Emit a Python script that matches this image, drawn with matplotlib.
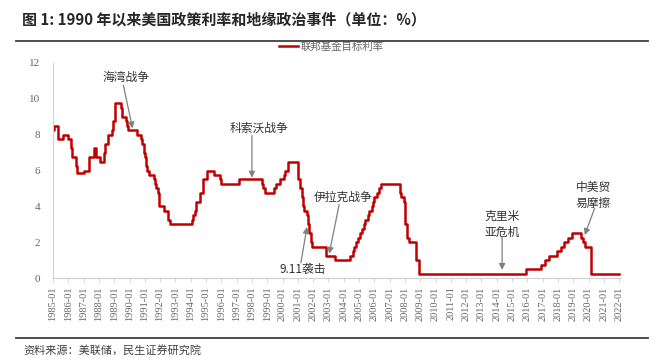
import matplotlib
matplotlib.use("Agg")
import matplotlib.pyplot as plt
from matplotlib.lines import Line2D

plt.rcParams['font.family'] = ['Noto Sans CJK SC', 'DejaVu Sans']

# Fed funds target rate change points (year, month, value %)
change_years = [1985, 1985, 1985, 1985, 1986, 1986, 1986, 1986, 1986,
                1987, 1987, 1987, 1987, 1988, 1988, 1988, 1988, 1988, 1988,
                1989, 1989, 1989, 1989, 1989, 1989, 1990, 1990, 1990, 1990,
                1991, 1991, 1991, 1991, 1991, 1991, 1991, 1991, 1991,
                1992, 1992, 1992, 1994, 1994, 1994, 1994, 1994, 1994,
                1995, 1995, 1995, 1996, 1997, 1998, 1998, 1998,
                1999, 1999, 1999, 2000, 2000, 2000,
                2001, 2001, 2001, 2001, 2001, 2001, 2001, 2001, 2001, 2001,
                2002, 2003, 2004, 2004, 2004, 2004, 2004,
                2005, 2005, 2005, 2005, 2005, 2005, 2005, 2005,
                2006, 2006, 2006, 2006, 2007, 2007, 2007,
                2008, 2008, 2008, 2008, 2008,
                2015, 2016, 2017, 2017, 2017, 2018, 2018, 2018, 2018,
                2019, 2019, 2019, 2020, 2022]
change_months = [1, 2, 5, 9, 1, 3, 4, 7, 8,
                 1, 5, 9, 11, 2, 5, 6, 8, 11, 12,
                 2, 6, 7, 10, 11, 12, 7, 10, 11, 12,
                 1, 2, 3, 4, 8, 9, 10, 11, 12,
                 4, 7, 9, 2, 3, 4, 5, 8, 11,
                 2, 7, 12, 1, 3, 9, 10, 11,
                 6, 8, 11, 2, 3, 5,
                 1, 3, 4, 5, 6, 8, 9, 10, 11, 12,
                 11, 6, 6, 8, 9, 11, 12,
                 2, 3, 5, 6, 8, 9, 11, 12,
                 1, 3, 5, 6, 9, 10, 12,
                 1, 3, 4, 10, 12,
                 12, 12, 3, 6, 12, 3, 6, 9, 12,
                 7, 9, 10, 3, 1]
rate_values = [8.25, 8.5, 7.75, 8.0, 7.75, 7.25, 6.75, 6.25, 5.875,
               6.0, 6.75, 7.25, 6.75, 6.5, 7.0, 7.5, 8.0, 8.25, 8.75,
               9.75, 9.5, 9.0, 8.75, 8.5, 8.25, 8.0, 7.75, 7.5, 7.0,
               6.75, 6.25, 6.0, 5.75, 5.5, 5.25, 5.0, 4.75, 4.0,
               3.75, 3.25, 3.0, 3.25, 3.5, 3.75, 4.25, 4.75, 5.5,
               6.0, 5.75, 5.5, 5.25, 5.5, 5.25, 5.0, 4.75,
               5.0, 5.25, 5.5, 5.75, 6.0, 6.5,
               5.5, 5.0, 4.5, 4.0, 3.75, 3.5, 3.0, 2.5, 2.0, 1.75,
               1.25, 1.0, 1.25, 1.5, 1.75, 2.0, 2.25,
               2.5, 2.75, 3.0, 3.25, 3.5, 3.75, 4.0, 4.25,
               4.5, 4.75, 5.0, 5.25, 4.75, 4.5, 4.25,
               3.0, 2.25, 2.0, 1.0, 0.25,
               0.5, 0.75, 1.0, 1.25, 1.5, 1.75, 2.0, 2.25, 2.5,
               2.25, 2.0, 1.75, 0.25, 0.25]

tick_years = list(range(1985, 2023))
tick_labels = [f"{y}-01" for y in tick_years]

series_name = "联邦基金目标利率"
title = "图 1: 1990 年以来美国政策利率和地缘政治事件（单位：%）"
source = "资料来源：美联储，民生证券研究院"

# events: label, arrow tip (year, value), text position, arrow start
events = [
    ("海湾战争", (1990.2, 8.35), (1989.75, 11.2), (1989.6, 10.75)),
    ("科索沃战争", (1998.0, 5.6), (1998.45, 8.35), (1998.0, 7.95)),
    ("9.11袭击", (2001.6, 2.85), (2001.35, 0.45), (2001.2, 0.85)),
    ("伊拉克战争", (2003.05, 1.35), (2003.95, 4.5), (2003.7, 4.1)),
    ("克里米\n亚危机", (2014.35, 0.45), (2014.35, 3.0), (2014.35, 2.3)),
    ("中美贸\n易摩擦", (2019.75, 2.4), (2020.3, 4.6), (2020.4, 3.9)),
]

x = [y + (m - 1) / 12.0 for y, m in zip(change_years, change_months)]

fig = plt.figure(figsize=(6.63, 3.57), dpi=100)
ax = fig.add_axes([53 / 663, 1 - 278 / 357, (621 - 53) / 663, (278 - 63) / 357])

ax.step(x, rate_values, where='post', color='#C00000', lw=1.8, label=series_name)

ax.set_xlim(1985.0, 2022.12)
ax.set_ylim(0, 12)
ax.set_yticks(range(0, 13, 2))
ax.set_xticks(tick_years)
ax.set_xticklabels(tick_labels, rotation=90)
for lab in ax.get_xticklabels():
    lab.set_fontfamily('Liberation Serif')
    lab.set_fontsize(7.5)
    lab.set_color('#666666')
for lab in ax.get_yticklabels():
    lab.set_fontfamily('Liberation Serif')
    lab.set_fontsize(8)
    lab.set_color('#666666')
ax.tick_params(axis='x', length=3, width=0.6, color='#d0d0d0', pad=3)
ax.tick_params(axis='y', length=0, pad=9)
for s in ['top', 'right']:
    ax.spines[s].set_visible(False)
for s in ['left', 'bottom']:
    ax.spines[s].set_color('#d0d0d0')
    ax.spines[s].set_linewidth(0.8)

leg = ax.legend(loc='center', bbox_to_anchor=(0.49, 1.075), frameon=False,
                fontsize=7.5, handlelength=1.8, handletextpad=0.2)
for t in leg.get_texts():
    t.set_color('#666666')

for label, tip, tpos, start in events:
    ax.text(tpos[0], tpos[1], label, ha='center', va='center', fontsize=8.5,
            color='#333333', linespacing=1.25)
    ax.annotate('', xy=tip, xytext=start,
                arrowprops=dict(arrowstyle='-|>', color='#808080', lw=0.9,
                                mutation_scale=9, shrinkA=0, shrinkB=0))

fig.text(22 / 663, 1 - 19 / 357, title, fontsize=10.8, fontweight='bold',
         color='#262626', ha='left', va='center')
fig.add_artist(Line2D([16 / 663, 648 / 663], [1 - 40.5 / 357] * 2,
                      color='#404040', lw=1.3, transform=fig.transFigure))
fig.add_artist(Line2D([16 / 663, 648 / 663], [1 - 338 / 357] * 2,
                      color='#404040', lw=1.3, transform=fig.transFigure))
fig.text(23 / 663, 1 - 350 / 357, source, fontsize=8, color='#404040',
         ha='left', va='center')

fig.savefig('out.png', dpi=100)
